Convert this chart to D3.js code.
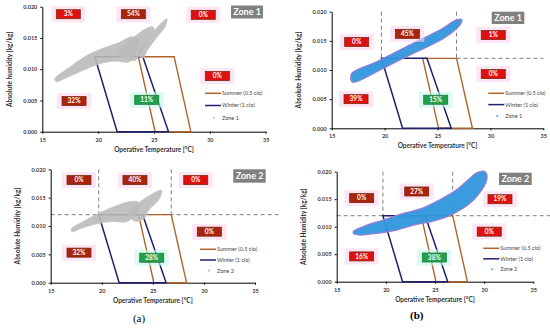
<!DOCTYPE html>
<html>
<head>
<meta charset="utf-8">
<script src="https://cdn.jsdelivr.net/npm/d3@7"></script>
<style>
  body { margin: 0; background: #fff; }
  svg { display: block; }
  text { font-family: Lato, "Open Sans", sans-serif; }
</style>
</head>
<body>
<svg id="fig" width="550" height="330">
  <defs>
    <filter id="soft" x="-10%" y="-10%" width="120%" height="120%"><feGaussianBlur stdDeviation="0.7"/></filter>
  </defs>
</svg>
<script>
// ---- data ----
const tempTicks = [15, 20, 25, 30, 35];
const humTicks = [0, 0.005, 0.010, 0.015, 0.020];

// ASHRAE comfort polygons [temp, humidity]
const summerZone = [[23.6, 0.012], [26.8, 0.012], [28.3, 0], [25.1, 0]];
const winterZone = [[19.7, 0.012], [24.0, 0.012], [26.3, 0], [21.7, 0]];
const dashTemps = [19.7, 26.8];
const dashHum = 0.012;

// outlines of the measured clouds (gray ones are a body plus streaks)
const cloudA = [
  [[16.1, 0.0084], [17.5, 0.0104], [19.0, 0.0122], [20.5, 0.0134], [21.8, 0.0142], [23.0, 0.0152],
   [23.6, 0.0148], [23.4, 0.0128], [22.8, 0.0112], [21.5, 0.0113], [20.0, 0.0108], [18.5, 0.0097],
   [17.0, 0.0085], [16.3, 0.0080]],
  [[21.5, 0.0128], [22.8, 0.0145], [24.0, 0.0162], [24.9, 0.0168], [25.0, 0.0160], [24.3, 0.0142],
   [23.8, 0.0125], [23.3, 0.0114], [22.3, 0.0118]],
  [[23.5, 0.0125], [24.4, 0.0148], [25.3, 0.0167], [26.15, 0.0181], [26.0, 0.0168], [25.2, 0.0150],
   [24.4, 0.0130], [24.0, 0.0118]]
];
const cloudB = [
  [[16.9, 0.0094], [19.25, 0.0114], [22.4, 0.0143], [25.55, 0.0172], [26.8, 0.0186], [27.3, 0.0186],
   [27.1, 0.0177], [25.55, 0.0154], [22.4, 0.0126], [19.25, 0.0097], [17.36, 0.0080], [16.9, 0.0080]]
];
const cloudC = [
  [[17.0, 0.0094], [18.5, 0.0111], [20.0, 0.0125], [21.5, 0.0136], [22.8, 0.0143], [23.6, 0.0142],
   [23.5, 0.0125], [22.5, 0.0108], [21.0, 0.0108], [19.5, 0.0104], [18.0, 0.0096], [17.1, 0.0090]],
  [[22.6, 0.0125], [23.6, 0.0141], [24.7, 0.0154], [25.85, 0.0163], [25.6, 0.0147], [24.6, 0.0128],
   [24.1, 0.0112], [23.2, 0.0109]]
];
const cloudD = [
  [[16.69, 0.0091], [17.7, 0.0100], [19.74, 0.0112], [21.78, 0.0124], [23.81, 0.0134], [25.5, 0.0149],
   [27.2, 0.0167], [28.56, 0.0188], [29.24, 0.0198], [30.09, 0.0200], [30.26, 0.0185], [29.24, 0.0155],
   [27.88, 0.0134], [26.19, 0.0118], [24.49, 0.0109], [22.79, 0.0103], [21.1, 0.0094], [19.07, 0.0088],
   [17.37, 0.0085], [16.76, 0.0087]]
];

// share of hours per region, and where each region sits [temp, humidity]
const pctA = ["3%", "54%", "0%", "0%", "32%", "11%"];
const pctB = ["0%", "45%", "1%", "0%", "39%", "15%"];
const pctC = ["0%", "40%", "0%", "0%", "32%", "28%"];
const pctD = ["0%", "27%", "19%", "0%", "16%", "38%"];
const kindA = ["r", "d", "r", "r", "d", "g"];
const kindB = ["r", "d", "r", "r", "r", "g"];
const kindC = ["d", "d", "r", "d", "d", "g"];
const kindD = ["d", "d", "r", "r", "r", "g"];
const spotA = [[17.33, 0.0188], [23.15, 0.0188], [29.41, 0.0187], [30.67, 0.0089], [17.84, 0.0049], [24.35, 0.0051]];
const spotB = [[17.36, 0.0148], [22.15, 0.0162], [30.27, 0.0160], [30.27, 0.0093], [17.3, 0.0050], [24.83, 0.0049]];
const spotC = [[17.77, 0.0181], [23.25, 0.0181], [29.2, 0.0181], [30.53, 0.0090], [17.77, 0.0053], [24.89, 0.0044]];
const spotD = [[17.54, 0.0152], [23.14, 0.0164], [31.61, 0.0150], [30.52, 0.0091], [17.54, 0.0046], [24.93, 0.0044]];

const legendNames = ["Summer (0.5 clo)", "Winter (1 clo)"];

// ---- layout ----
const panels = [
  { left: 42.3, right: 265.7, top: 6.7, bottom: 131.7, cloud: cloudA, pct: pctA, kind: kindA, spot: spotA,
    zone: "Zone 1", yTitle: "Absolute humidity [kg/kg]", blue: false, vDash: false, hDash: null,
    leg: [205, 93.3, 12.2], zoneBox: [231, 5.5, 32, 13] },
  { left: 331.7, right: 543.3, top: 11.7, bottom: 128.3, cloud: cloudB, pct: pctB, kind: kindB, spot: spotB,
    zone: "Zone 1", yTitle: "Absolute Humidity [kg/kg]", blue: true, vDash: true, hDash: [26.8, 35],
    leg: [488.3, 93.3, 11.3], zoneBox: [491.7, 11.7, 32.6, 12.3] },
  { left: 50.7, right: 255, top: 169.3, bottom: 282.7, cloud: cloudC, pct: pctC, kind: kindC, spot: spotC,
    zone: "Zone 2", yTitle: "Absolute Humidity [kg/kg]", blue: false, vDash: true, hDash: [15, 37.4],
    leg: [200, 249.3, 10.7], zoneBox: [233.3, 169.3, 32.4, 13.4] },
  { left: 336.7, right: 533.3, top: 171.7, bottom: 281.7, cloud: cloudD, pct: pctD, kind: kindD, spot: spotD,
    zone: "Zone 2", yTitle: "Absolute Humidity [kg/kg]", blue: true, vDash: true, hDash: [15, 37.2],
    leg: [483.3, 248.3, 10.5], zoneBox: [499, 172.7, 32.7, 12.3] }
];

const summerColor = "#b0642c";
const winterColor = "#1b2170";
const boxFill = { r: "#e01010", d: "#a8240c", g: "#22a04c" };

const svg = d3.select("#fig");

panels.forEach(p => {
  const g = svg.append("g");
  const x = d3.scaleLinear().domain([15, 35]).range([p.left, p.right]);
  const y = d3.scaleLinear().domain([0, 0.02]).range([p.bottom, p.top]);
  const poly = d3.line().x(d => x(d[0])).y(d => y(d[1]));

  // dashed guides
  if (p.vDash) {
    g.selectAll("line.vd").data(dashTemps).enter().append("line")
      .attr("x1", d => x(d)).attr("x2", d => x(d))
      .attr("y1", y(0.02)).attr("y2", y(dashHum))
      .attr("stroke", "#7f7f7f").attr("stroke-width", 1).attr("stroke-dasharray", "4,3");
  }
  if (p.hDash) {
    g.append("line")
      .attr("x1", x(p.hDash[0])).attr("x2", x(p.hDash[1]))
      .attr("y1", y(dashHum)).attr("y2", y(dashHum))
      .attr("stroke", "#7f7f7f").attr("stroke-width", 1).attr("stroke-dasharray", "4,3");
  }

  // axes
  const xAxis = d3.axisBottom(x).tickValues(tempTicks).tickSizeInner(2).tickSizeOuter(0);
  const yAxis = d3.axisLeft(y).tickValues(humTicks).tickFormat(d3.format(".3f")).tickSizeInner(2).tickSizeOuter(0);
  const gx = g.append("g").attr("transform", "translate(0," + p.bottom + ")").call(xAxis);
  const gy = g.append("g").attr("transform", "translate(" + p.left + ",0)").call(yAxis);
  [gx, gy].forEach(a => {
    a.select(".domain").attr("stroke", "#000").attr("stroke-width", 1);
    a.selectAll(".tick line").attr("stroke", "#000");
    a.selectAll(".tick text").attr("fill", "#404040").attr("font-size", "5.5px").attr("font-weight", "bold")
      .style("font-family", "Lato, sans-serif");
  });
  gx.selectAll(".tick text").attr("dy", "0.9em");

  // comfort zones
  g.append("path").attr("d", poly(summerZone) + "Z").attr("fill", "none")
    .attr("stroke", summerColor).attr("stroke-width", 1.4);
  g.append("path").attr("d", poly(winterZone) + "Z").attr("fill", "none")
    .attr("stroke", winterColor).attr("stroke-width", 1.5);

  // measured cloud
  const cl = d3.line().x(d => x(d[0])).y(d => y(d[1])).curve(d3.curveCatmullRomClosed.alpha(0.5));
  g.append("g").attr("filter", p.blue ? null : "url(#soft)")
    .selectAll("path").data(p.cloud).enter().append("path")
    .attr("d", cl)
    .attr("fill", p.blue ? "#2f97dc" : "#bababa")
    .attr("fill-opacity", p.blue ? 0.95 : 0.9)
    .attr("stroke", p.blue ? "#8c80d6" : "#c4c4c4")
    .attr("stroke-width", p.blue ? 1.4 : 0.8);

  // percentage boxes
  const lb = g.selectAll("g.pct").data(p.pct).enter().append("g")
    .attr("transform", (d, i) => "translate(" + x(p.spot[i][0]) + "," + y(p.spot[i][1]) + ")");
  lb.append("rect").attr("x", -17).attr("y", -8).attr("width", 34).attr("height", 16)
    .attr("fill", (d, i) => p.kind[i] === "g" ? "#c4f5ea" : "#fbd3ef").attr("opacity", 0.6);
  lb.append("rect").attr("x", -12).attr("y", -4.5).attr("width", 24).attr("height", 9)
    .attr("fill", (d, i) => boxFill[p.kind[i]])
    .attr("stroke", (d, i) => p.kind[i] === "g" ? "#1a7a3a" : "#7a2a0a").attr("stroke-width", 0.8);
  lb.append("text").text(d => d).attr("text-anchor", "middle").attr("dy", "0.35em")
    .attr("fill", "#fff").attr("font-size", "6.5px").attr("font-weight", "bold");

  // legend
  const [lx, ly, ls] = p.leg;
  [summerColor, winterColor].forEach((c, i) => {
    g.append("line").attr("x1", lx).attr("x2", lx + 16).attr("y1", ly + i * ls).attr("y2", ly + i * ls)
      .attr("stroke", c).attr("stroke-width", 1.5);
    g.append("text").attr("x", lx + 17).attr("y", ly + i * ls).attr("dy", "0.35em")
      .attr("font-size", "5.5px").attr("fill", "#444").text(legendNames[i]);
  });
  g.append("circle").attr("cx", lx + 9).attr("cy", ly + 2 * ls).attr("r", 1.1)
    .attr("fill", p.blue ? "#5aaee6" : "#c4c4c4");
  g.append("text").attr("x", lx + 17).attr("y", ly + 2 * ls).attr("dy", "0.35em")
    .attr("font-size", "5.5px").attr("fill", "#444").text(p.zone);

  // zone tag
  const [zx, zy, zw, zh] = p.zoneBox;
  g.append("rect").attr("x", zx).attr("y", zy).attr("width", zw).attr("height", zh).attr("fill", "#808080");
  g.append("text").attr("x", zx + zw / 2).attr("y", zy + zh / 2).attr("dy", "0.36em")
    .attr("text-anchor", "middle").attr("fill", "#fff").attr("font-size", "9px").attr("font-weight", "bold")
    .text(p.zone);

  // axis titles
  g.append("text").attr("x", (p.left + p.right) / 2).attr("y", p.bottom + 20).attr("text-anchor", "middle")
    .attr("font-size", "6.5px").attr("font-weight", "bold").attr("fill", "#333")
    .text("Operative Temperature [\u00b0C]");
  g.append("text").attr("transform", "translate(" + (p.left - 33) + "," + ((p.top + p.bottom) / 2) + ") rotate(-90)")
    .attr("text-anchor", "middle").attr("dy", "0.35em")
    .attr("font-size", "6.5px").attr("font-weight", "bold").attr("fill", "#333")
    .text(p.yTitle);
});

// sub-figure letters
svg.append("text").attr("x", 139).attr("y", 322).attr("text-anchor", "middle")
  .style("font-family", "'Liberation Serif', 'DejaVu Serif', serif").attr("font-size", "11px").text("(a)");
svg.append("text").attr("x", 416.7).attr("y", 319).attr("text-anchor", "middle")
  .style("font-family", "'Liberation Serif', 'DejaVu Serif', serif").attr("font-size", "11px").attr("font-weight", "bold").text("(b)");
</script>
</body>
</html>
